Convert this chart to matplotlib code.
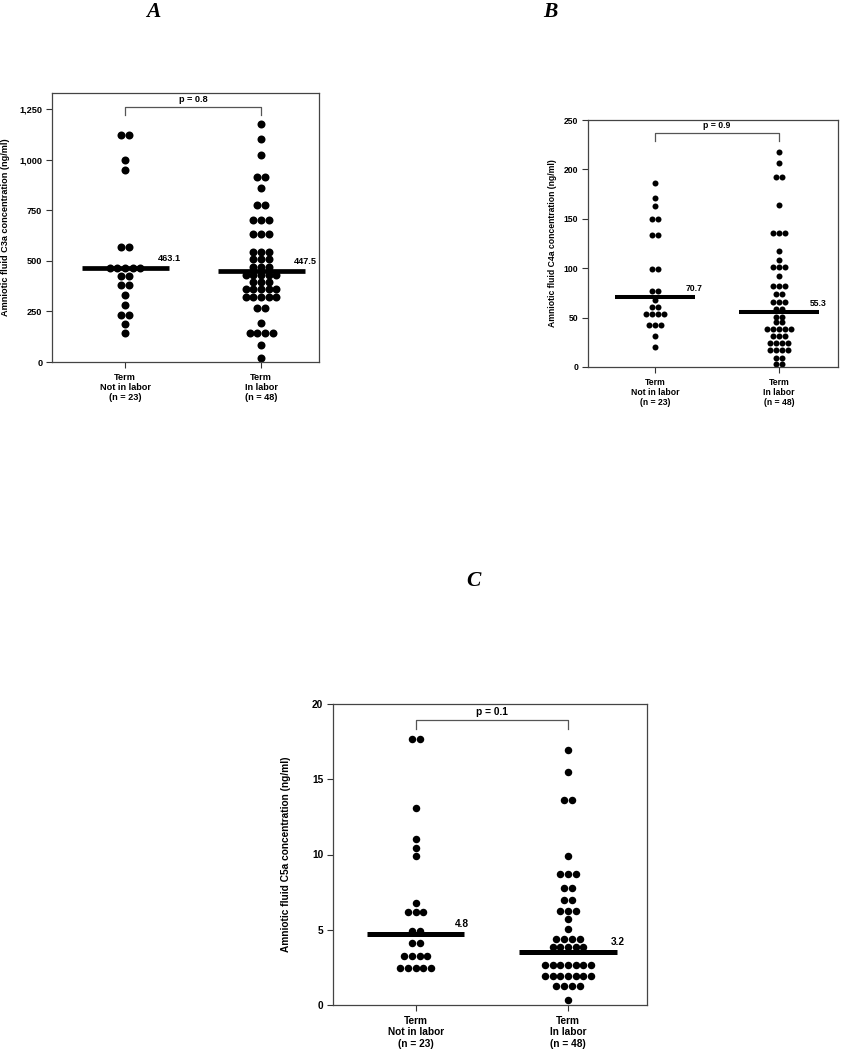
import numpy as np
import matplotlib
matplotlib.use("Agg")
import matplotlib.pyplot as plt
from matplotlib.ticker import StrMethodFormatter, MultipleLocator

plt.rcParams['font.family'] = ['Liberation Sans', 'DejaVu Sans']
plt.rcParams['font.weight'] = 'bold'

W, H = 845, 1050

group_labels = ['Term\nNot in labor\n(n = 23)', 'Term\nIn labor\n(n = 48)']

# panel A - C3a (ng/ml)
c3a_not_labor = [1121, 1121, 1001, 949, 568, 568, 466, 466, 466, 466, 466,
                 424, 424, 381, 381, 329, 281, 234, 234, 190, 142]
c3a_in_labor = [1176, 1101, 1024, 913, 913, 859, 778, 778, 703, 703, 703,
                634, 634, 634, 543, 543, 543, 509, 509, 509, 471, 471, 471,
                429, 429, 429, 429, 429, 398, 398, 398,
                363, 363, 363, 363, 363, 320, 320, 320, 320, 320,
                267, 267, 195, 144, 144, 144, 144, 86, 21]
c3a_median = [463.1, 447.5]
c3a_p = 'p = 0.8'

# panel B - C4a (ng/ml)
c4a_not_labor = [186, 171, 163, 150, 150, 134, 134, 99, 99, 77, 77, 68,
                 61, 61, 54, 54, 54, 54, 42.5, 42.5, 42.5, 31, 20]
c4a_in_labor = [218, 206, 192, 192, 164, 136, 136, 136, 117, 108,
                101.5, 101.5, 101.5, 92, 82, 82, 82, 74, 74, 65.5, 65.5, 65.5,
                58.6, 58.6, 51, 51, 45.8, 45.8, 38.5, 38.5, 38.5, 38.5, 38.5,
                31, 31, 31, 24.3, 24.3, 24.3, 24.3, 16.8, 16.8, 16.8, 16.8,
                9.5, 9.5, 3, 3]
c4a_median = [70.7, 55.3]
c4a_p = 'p = 0.9'

# panel C - C5a (ng/ml)
c5a_not_labor = [17.7, 17.7, 13.1, 11.05, 10.45, 9.9, 6.8, 6.2, 6.2, 6.2,
                 4.95, 4.95, 4.1, 4.1, 3.25, 3.25, 3.25, 3.25,
                 2.45, 2.45, 2.45, 2.45, 2.45]
c5a_in_labor = [16.95, 15.45, 13.6, 13.6, 9.9, 8.7, 8.7, 8.7, 7.8, 7.8,
                7.0, 7.0, 6.25, 6.25, 6.25, 5.7, 5.05, 4.4, 4.4, 4.4, 4.4,
                3.85, 3.85, 3.85, 3.85, 3.85,
                2.65, 2.65, 2.65, 2.65, 2.65, 2.65, 2.65,
                1.95, 1.95, 1.95, 1.95, 1.95, 1.95, 1.95,
                1.25, 1.25, 1.25, 1.25, 0.33]
c5a_median = [4.7, 3.5]
c5a_median_text = ['4.8', '3.2']
c5a_p = 'p = 0.1'

fig = plt.figure(figsize=(W / 100, H / 100), dpi=100)


def make_axes(left, top, right, bottom):
    return fig.add_axes([left / W, 1 - bottom / H, (right - left) / W, (bottom - top) / H])


def panel(box, xlim, ylim, ystep, data, medians, med_text, pval, ylabel,
          fs, dot_px, step_px, bar_lw, bracket, lab_off, ylab_x, fmt=None):
    ax = make_axes(*box)
    ax.set_xlim(*xlim)
    ax.set_ylim(*ylim)
    px_per_unit = (box[2] - box[0]) / (xlim[1] - xlim[0])

    for gi, vals in enumerate(data):
        x0 = gi + 1
        uniq, counts = np.unique(vals, return_counts=True)
        for v, n in zip(uniq, counts):
            offs = (np.arange(n) - (n - 1) / 2) * step_px / px_per_unit
            ax.plot(x0 + offs, [v] * n, 'o', color='black', ms=dot_px * 0.72,
                    mec='none', zorder=2)
        ax.hlines(medians[gi], x0 - 0.32, x0 + 0.32, color='black', lw=bar_lw,
                  zorder=3, capstyle='butt')
        ax.annotate(med_text[gi], (x0 + 0.32, medians[gi]), xytext=lab_off[gi],
                    textcoords='offset pixels', ha='left', va='center',
                    fontsize=fs, fontweight='bold')

    top, drop = bracket
    ax.plot([1, 1, 2, 2], [drop, top, top, drop], color='#555555', lw=0.9,
            clip_on=False, zorder=1)
    ax.annotate(pval, (1.5, top), xytext=(0, 3), textcoords='offset pixels',
                ha='center', va='bottom', fontsize=fs, fontweight='bold')

    ax.yaxis.set_major_locator(MultipleLocator(ystep))
    if fmt:
        ax.yaxis.set_major_formatter(StrMethodFormatter(fmt))
    ax.set_xticks([1, 2])
    ax.set_xticklabels(group_labels, linespacing=1.15)
    ax.tick_params(axis='both', direction='out', length=4, width=0.8,
                   color='#333333', labelsize=fs, pad=3)
    ax.tick_params(axis='x', pad=4)
    for s in ax.spines.values():
        s.set_color('#444444')
        s.set_linewidth(0.9)
    ax.set_ylabel(ylabel, fontsize=fs, fontweight='bold')
    ax.yaxis.set_label_coords(ylab_x, 0.5)
    return ax


panel((52, 93, 319, 362), (0.463, 2.426), (0, 1330), 250,
      [c3a_not_labor, c3a_in_labor], c3a_median,
      [f'{m:.1f}' for m in c3a_median], c3a_p,
      'Amniotic fluid C3a concentration (ng/ml)',
      6.6, 8, 7.7, 3.4, (1263, 1220), [(-11, 10), (-11, 10)], -0.158, '{x:,.0f}')

panel((588, 120, 838, 367), (0.46, 2.476), (0, 250), 50,
      [c4a_not_labor, c4a_in_labor], c4a_median,
      [f'{m:.1f}' for m in c4a_median], c4a_p,
      'Amniotic fluid C4a concentration (ng/ml)',
      6.2, 6, 6.2, 2.9, (236.6, 229), [(-9, 9), (-9, 9)], -0.125)

panel((333, 704, 647, 1005), (0.457, 2.519), (0, 20), 5,
      [c5a_not_labor, c5a_in_labor], c5a_median, c5a_median_text, c5a_p,
      'Amniotic fluid C5a concentration (ng/ml)',
      7.3, 7.5, 7.7, 3.6, (18.92, 18.32), [(-10, 10), (-6, 10)], -0.135)

for letter, x, y in [('A', 153, 12), ('B', 550, 12), ('C', 473, 581)]:
    fig.text(x / W, 1 - y / H, letter, family='Liberation Serif', style='italic',
             weight='bold', fontsize=15.5, ha='center', va='center')

fig.savefig('out.png', dpi=100)
